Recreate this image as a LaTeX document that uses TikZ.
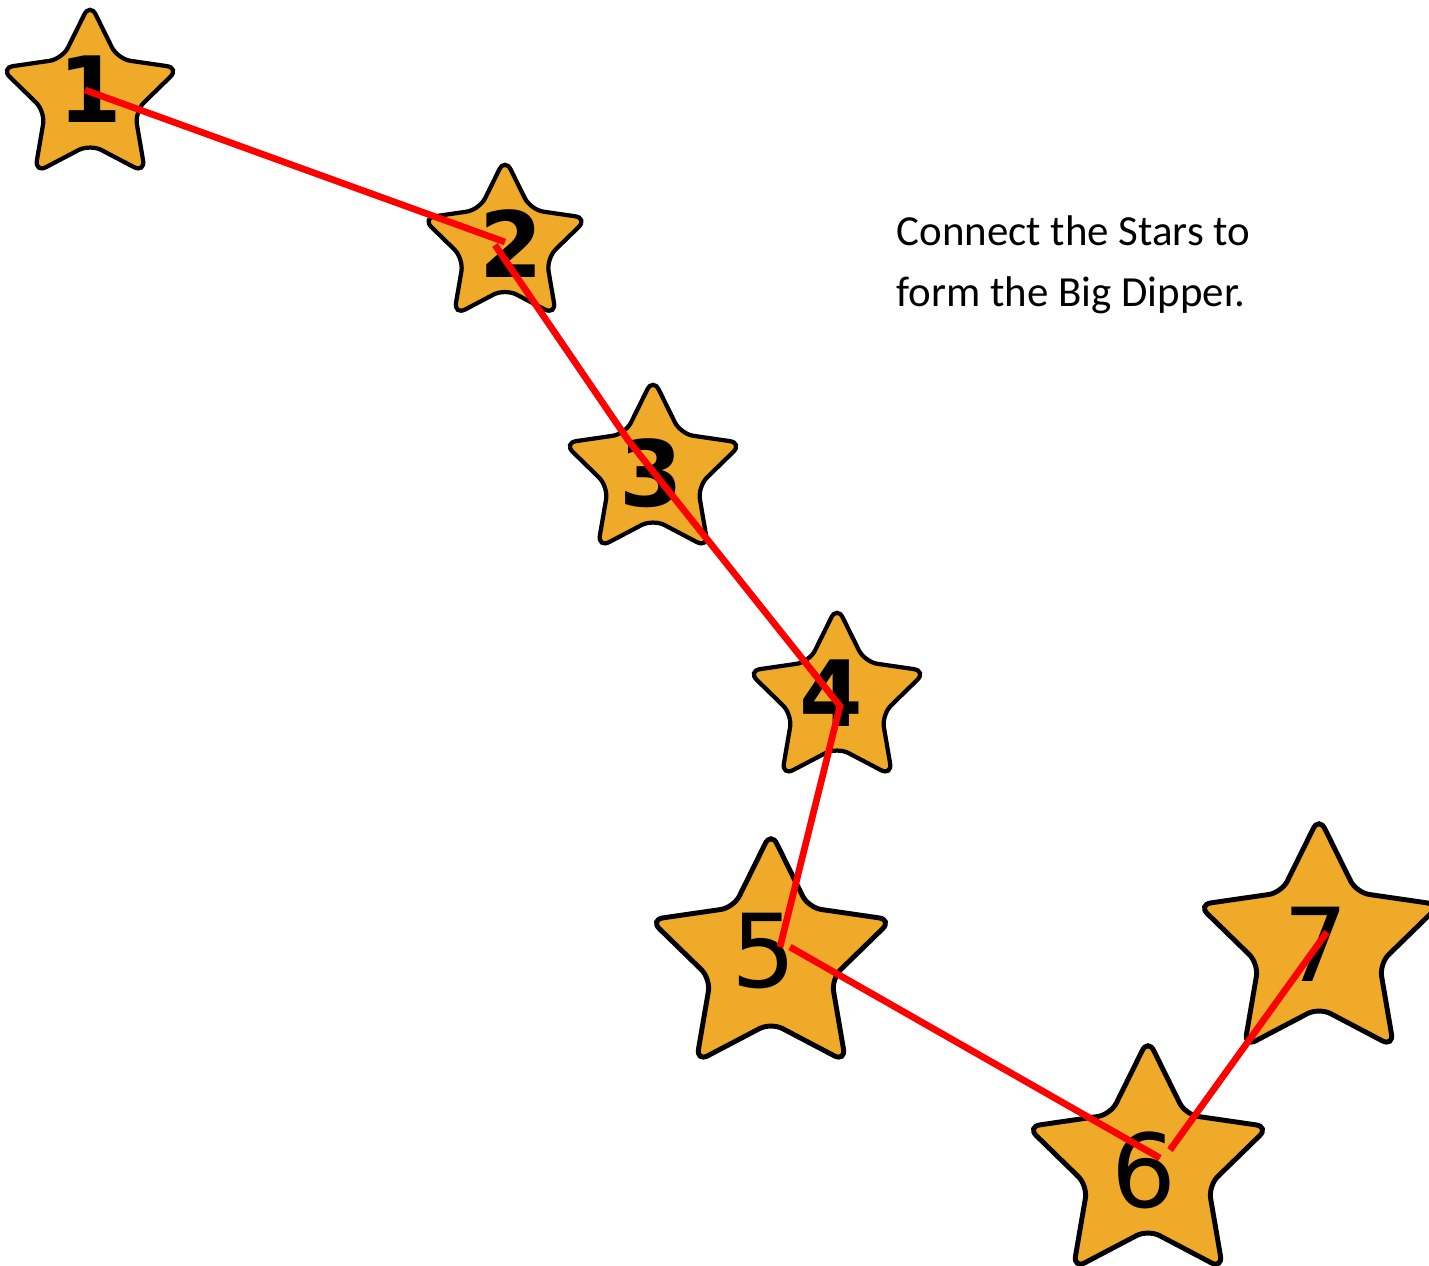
\documentclass[tikz,border=0pt]{standalone}
\usepackage{fontspec}
\setmainfont{Carlito}
\newfontfamily\digitfont{DejaVu Sans}
\usetikzlibrary{shapes.geometric}

\definecolor{starorange}{RGB}{238,170,40}
\definecolor{dipred}{RGB}{255,0,0}

\begin{document}
\begin{tikzpicture}[
  x=0.01cm, y=-0.01cm,
  dipstar/.style={star, star points=5, star point ratio=2.0, draw=black,
    line width=1.2pt, fill=starorange, rounded corners=0.13cm, inner sep=0pt},
  smallstar/.style={dipstar, minimum size=1.88cm},
  bigstar/.style={dipstar, minimum size=2.54cm, line width=1.4pt},
  num/.style={font=\fontsize{26}{28}\selectfont\digitfont\bfseries, inner sep=0pt},
  bignum/.style={font=\fontsize{29}{31}\selectfont\digitfont, inner sep=0pt},
  dip/.style={draw=dipred, line width=1.9pt},
  note/.style={font=\fontsize{12.2}{14}\selectfont, inner sep=0pt, anchor=base west}
]
\useasboundingbox (0,0) rectangle (1429,1266);

% the seven stars
\node[smallstar] (s1) at (90,97) {};
\node[smallstar, minimum size=1.74cm] (s2) at (505,245) {};
\node[smallstar] (s3) at (653,472) {};
\node[smallstar] (s4) at (837,700) {};
\node[bigstar] (s5) at (771,959) {};
\node[bigstar] (s6) at (1148,1166) {};
\node[bigstar] (s7) at (1319,944) {};

% numbers
\node[num] (n1) at (90,89) {1};
\node[num] (n2) at (511,244) {2};
\node[num] (n3) at (651,473) {3};
\node[num] (n4) at (831,693) {4};
\node[bignum] (n5) at (764,951) {5};
\node[bignum] (n6) at (1144,1170) {6};
\node[bignum] (n7) at (1316,944) {7};

% where the pen goes
\coordinate (a1) at (85,90);
\coordinate (a2) at (505,242);
\coordinate (b2) at (495,245);
\coordinate (b3) at (628,440);
\coordinate (b4) at (840,706);
\coordinate (b5) at (780,947);
\coordinate (c5) at (790,947);
\coordinate (c6) at (1160,1158);
\coordinate (d6) at (1170,1150);
\coordinate (d7) at (1327,932);

\draw[dip] (a1) -- (a2);
\draw[dip] (b2) -- (b3) -- (b4) -- (b5);
\draw[dip] (c5) -- (c6);
\draw[dip] (d6) -- (d7);

\node[note] (t1) at (896,245) {Connect the Stars to};
\node[note] (t2) at (896,306) {form the Big Dipper.};
\end{tikzpicture}
\end{document}
